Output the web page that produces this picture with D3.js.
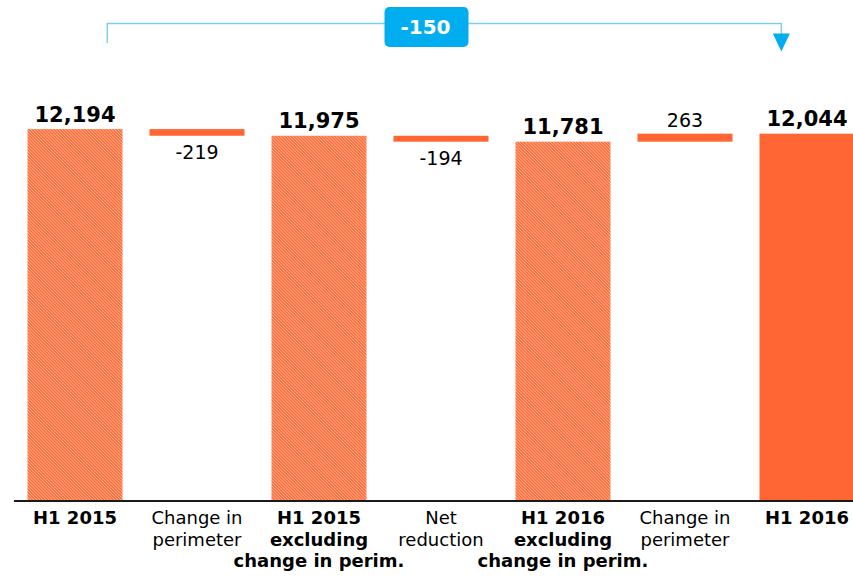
<!DOCTYPE html>
<html>
<head>
<meta charset="utf-8">
<script src="https://cdn.jsdelivr.net/npm/d3@7"></script>
<style>
  body { margin: 0; background: #fff; }
  svg { display: block; font-family: "DejaVu Sans", Verdana, sans-serif; }
</style>
</head>
<body>
<div id="chart"></div>
<script>
// Categories (each label can wrap on several lines)
const categories = ["h1_2015", "perim_1", "h1_2015_excl", "net_red", "h1_2016_excl", "perim_2", "h1_2016"];
const categoryLines = [
  ["H1 2015"],
  ["Change in", "perimeter"],
  ["H1 2015", "excluding", "change in perim."],
  ["Net", "reduction"],
  ["H1 2016", "excluding", "change in perim."],
  ["Change in", "perimeter"],
  ["H1 2016"]
];
const boldLabel = [true, false, true, false, true, false, true];

// Values: totals are absolute, deltas are changes from the previous total
const values = [12194, -219, 11975, -194, 11781, 263, 12044];
const kinds = ["total", "delta", "total", "delta", "total", "delta", "total"];
const fills = ["hatch", "solid", "hatch", "solid", "hatch", "solid", "solid"];

const width = 853;
const height = 578;
const baseline = 501;

const orange = "#ff6633";
const blue = "#00aeef";

// build waterfall rows
let running = 0;
const rows = categories.map((c, i) => {
  let y0, y1;
  if (kinds[i] === "total") {
    y0 = 0; y1 = values[i];
    running = values[i];
  } else {
    y0 = running; y1 = running + values[i];
    running = y1;
  }
  return { cat: c, i, value: values[i], kind: kinds[i], fill: fills[i], lo: Math.min(y0, y1), hi: Math.max(y0, y1) };
});

const x = d3.scaleBand()
  .domain(categories)
  .range([14, 14 + 122 * categories.length])
  .paddingInner(0.2213)
  .paddingOuter(0.1107);

const y = d3.scaleLinear()
  .domain([0, 13000])
  .range([baseline, baseline - 396.5]);

const svg = d3.select("#chart")
  .append("svg")
  .attr("width", width)
  .attr("height", height)
  .attr("viewBox", [0, 0, width, height]);

// fine hatch pattern for the "excluding" bars
const defs = svg.append("defs");
const pat = defs.append("pattern")
  .attr("id", "hatch")
  .attr("patternUnits", "userSpaceOnUse")
  .attr("width", 2.2)
  .attr("height", 2.2)
  .attr("patternTransform", "rotate(-45)");
pat.append("rect").attr("width", 2.2).attr("height", 2.2).attr("fill", orange);
pat.append("rect").attr("width", 0.9).attr("height", 2.2).attr("fill", "#ffb190");

// bars
svg.append("g")
  .selectAll("rect")
  .data(rows)
  .join("rect")
  .attr("x", d => x(d.cat))
  .attr("width", x.bandwidth())
  .attr("y", d => y(d.hi))
  .attr("height", d => y(d.lo) - y(d.hi))
  .attr("fill", d => d.fill === "hatch" ? "url(#hatch)" : orange);

// value labels
const fmtTotal = d3.format(",");
svg.append("g")
  .selectAll("text")
  .data(rows)
  .join("text")
  .attr("x", d => x(d.cat) + x.bandwidth() / 2)
  .attr("y", d => {
    if (d.kind === "total") return y(d.hi) - 7.5;
    return d.value < 0 ? y(d.lo) + 23 : y(d.hi) - 7;
  })
  .attr("text-anchor", "middle")
  .attr("font-size", d => d.kind === "total" ? 21 : 19)
  .attr("font-weight", d => d.kind === "total" ? "bold" : "normal")
  .attr("fill", "#000")
  .text(d => d.kind === "total" ? fmtTotal(d.value) : String(d.value));

// x axis line
svg.append("line")
  .attr("x1", 14)
  .attr("x2", width)
  .attr("y1", baseline)
  .attr("y2", baseline)
  .attr("stroke", "#1a1a1a")
  .attr("stroke-width", 2);

// category labels
const catG = svg.append("g");
categories.forEach((c, i) => {
  const t = catG.append("text")
    .attr("x", x(c) + x.bandwidth() / 2)
    .attr("y", 524)
    .attr("text-anchor", "middle")
    .attr("font-size", 18)
    .attr("font-weight", boldLabel[i] ? "bold" : "normal")
    .attr("fill", "#000");
  categoryLines[i].forEach((line, j) => {
    t.append("tspan")
      .attr("x", x(c) + x.bandwidth() / 2)
      .attr("dy", j === 0 ? 0 : 21.5)
      .text(line);
  });
});

// overall change bracket on top
const first = categories[0];
const last = categories[categories.length - 1];
const xa = x(first) + x.bandwidth() * 0.84;
const xb = x(last) + x.bandwidth() * 0.23;
const yTop = 23.5;

svg.append("path")
  .attr("d", `M${xa},43 V${yTop} H${xb} V34`)
  .attr("fill", "none")
  .attr("stroke", "#7fcdee")
  .attr("stroke-width", 1.5);

svg.append("path")
  .attr("d", `M${xb - 8.5},33.5 L${xb + 8.5},33.5 L${xb},51.5 Z`)
  .attr("fill", blue);

const midX = 426.5;
svg.append("rect")
  .attr("x", midX - 42)
  .attr("y", 7)
  .attr("width", 84)
  .attr("height", 40)
  .attr("rx", 5)
  .attr("fill", blue);

svg.append("text")
  .attr("x", midX - 1)
  .attr("y", 34)
  .attr("text-anchor", "middle")
  .attr("font-size", 20)
  .attr("font-weight", "bold")
  .attr("fill", "#fff")
  .text(String(values[values.length - 1] - values[0]));
</script>
</body>
</html>
